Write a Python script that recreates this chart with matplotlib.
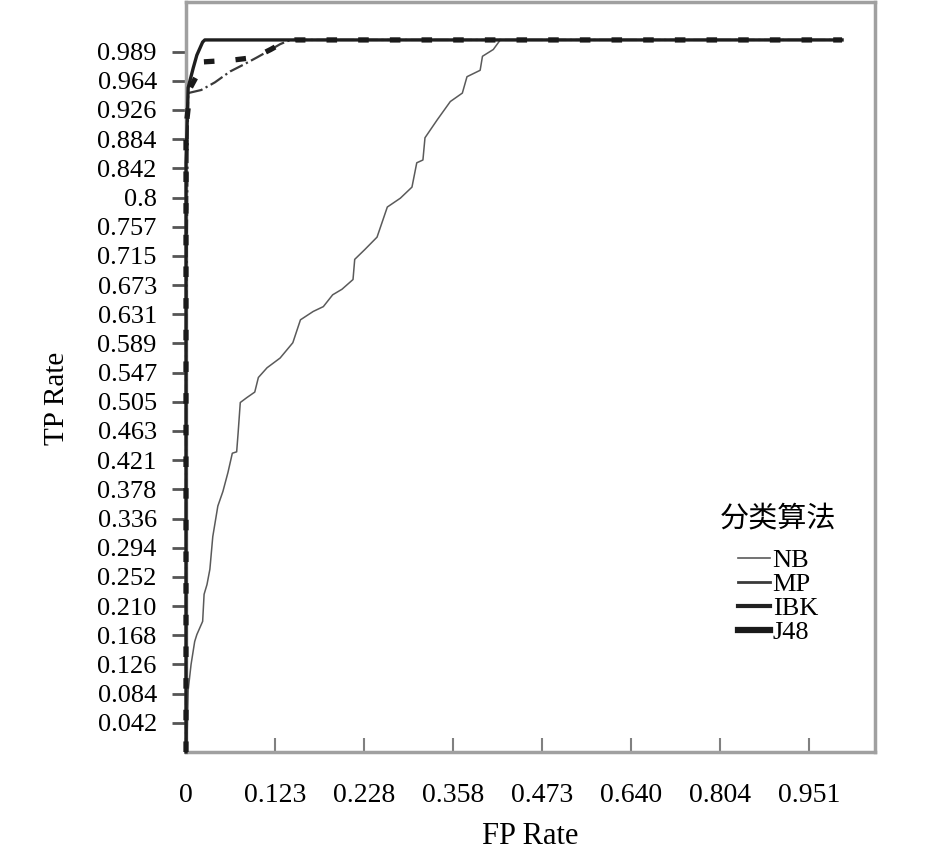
import numpy as np
import matplotlib.pyplot as plt
from matplotlib.lines import Line2D
from matplotlib.font_manager import FontProperties

plt.rcParams['font.family'] = ['Liberation Serif', 'Noto Sans CJK SC']

# tick labels as printed on the chart (evenly spaced, non-linear values)
x_ticks = [0, 0.123, 0.228, 0.358, 0.473, 0.640, 0.804, 0.951]
x_tick_labels = ['0', '0.123', '0.228', '0.358', '0.473', '0.640', '0.804', '0.951']
y_ticks = [0.042, 0.084, 0.126, 0.168, 0.210, 0.252, 0.294, 0.336, 0.378, 0.421,
           0.463, 0.505, 0.547, 0.589, 0.631, 0.673, 0.715, 0.757, 0.8, 0.842,
           0.884, 0.926, 0.964, 0.989]
y_tick_labels = ['0.042', '0.084', '0.126', '0.168', '0.210', '0.252', '0.294',
                 '0.336', '0.378', '0.421', '0.463', '0.505', '0.547', '0.589',
                 '0.631', '0.673', '0.715', '0.757', '0.8', '0.842', '0.884',
                 '0.926', '0.964', '0.989']

# ROC curves (FP rate, TP rate)
nb_fp = [0, 0.001, 0.003, 0.007, 0.012, 0.015, 0.023, 0.025, 0.029, 0.033,
         0.037, 0.044, 0.051, 0.058, 0.064, 0.070, 0.072, 0.075, 0.084, 0.095,
         0.100, 0.112, 0.129, 0.144, 0.153, 0.168, 0.180, 0.191, 0.202, 0.215,
         0.217, 0.229, 0.247, 0.262, 0.281, 0.298, 0.305, 0.314, 0.317, 0.335,
         0.354, 0.370, 0.376, 0.393, 0.396, 0.410, 0.419, 1.0]
nb_tp = [0, 0.0, 0.089, 0.126, 0.159, 0.169, 0.188, 0.227, 0.241, 0.263,
         0.310, 0.354, 0.375, 0.403, 0.431, 0.433, 0.460, 0.504, 0.511, 0.519,
         0.540, 0.554, 0.568, 0.590, 0.623, 0.635, 0.642, 0.659, 0.667, 0.681,
         0.710, 0.724, 0.742, 0.786, 0.799, 0.815, 0.850, 0.854, 0.886, 0.912,
         0.937, 0.948, 0.9675, 0.973, 0.985, 0.991, 1.0, 1.0]

mp_fp = [0, 0, 0.003, 0.021, 0.040, 0.061, 0.080, 0.098, 0.115, 0.129, 0.141, 1.0]
mp_tp = [0, 0.60, 0.948, 0.952, 0.962, 0.972, 0.978, 0.984, 0.990, 0.996, 1.0, 1.0]

ibk_fp = [0, 0, 0.003, 0.010, 0.015, 0.023, 0.026, 1.0]
ibk_tp = [0, 0.85, 0.955, 0.975, 0.986, 0.998, 1.0, 1.0]

j48_fp = [0, 0, 0.006, 0.019, 0.019, 0.045, 0.068, 0.095, 0.117, 0.129, 0.147, 1.0]
j48_tp = [0, 0.90, 0.955, 0.973, 0.980, 0.981, 0.982, 0.984, 0.991, 0.996, 1.0, 1.0]

# piecewise scales so the printed ticks come out evenly spaced
x_anchor = np.array(x_ticks + [1.0, 1.049])
x_pos = np.array(list(range(len(x_ticks))) + [7.37, 7.74])
y_anchor = np.array([0] + y_ticks + [1.0, 1.036])
y_pos = np.array(list(range(len(y_ticks) + 1)) + [24.4, 25.7])


def fx(v):
    return np.interp(v, x_anchor, x_pos)


def fx_inv(p):
    return np.interp(p, x_pos, x_anchor)


def fy(v):
    return np.interp(v, y_anchor, y_pos)


def fy_inv(p):
    return np.interp(p, y_pos, y_anchor)


fig = plt.figure(figsize=(9.45, 8.51), dpi=100)
ax = fig.add_axes([186 / 945, 1 - 752 / 851, 689 / 945, 750 / 851])
ax.set_xscale('function', functions=(fx, fx_inv))
ax.set_yscale('function', functions=(fy, fy_inv))

ax.plot(nb_fp, nb_tp, color='#5a5a5a', lw=1.1, clip_on=False, zorder=3)
ax.plot(mp_fp, mp_tp, color='#3a3a3a', lw=1.6, ls='-.', clip_on=False, zorder=3)
ax.plot(ibk_fp, ibk_tp, color='#1e1e1e', lw=2.4, clip_on=False, zorder=3)
ax.plot(j48_fp, j48_tp, color='#1a1a1a', lw=3.8, ls=(0, (2, 4)), clip_on=False,
        zorder=3)

ax.set_xlim(0, 1.049)
ax.set_ylim(0, 1.036)
ax.set_xticks(x_ticks)
ax.set_xticklabels(x_tick_labels)
ax.set_yticks(y_ticks)
ax.set_yticklabels(y_tick_labels)
ax.minorticks_off()

ax.tick_params(axis='x', direction='in', length=10, width=1.5, color='#808080',
               pad=22, labelsize=20)
ax.tick_params(axis='y', direction='out', length=10, width=2, color='#555555',
               pad=11, labelsize=19)
for s in ax.spines.values():
    s.set_color('#a0a0a0')
    s.set_linewidth(2.5)

ax.set_xlabel('FP Rate', fontsize=22)
ax.xaxis.set_label_coords(0.5, -0.093)
ax.set_ylabel('TP Rate', fontsize=21)
ax.yaxis.set_label_coords(-0.169, 0.472)

handles = [Line2D([], [], color='#5a5a5a', lw=1.2),
           Line2D([], [], color='#3a3a3a', lw=2.0),
           Line2D([], [], color='#222222', lw=3.0),
           Line2D([], [], color='#1a1a1a', lw=4.5)]
leg = ax.legend(handles, ['NB', 'MP', 'IBK', 'J48'], title='分类算法',
                title_fontproperties=FontProperties(family=['Noto Sans CJK SC'], size=21),
                loc='upper left', bbox_to_anchor=(720 / 945, 1 - 503 / 851),
                bbox_transform=fig.transFigure, frameon=False, fontsize=19,
                handlelength=1.2, handletextpad=0.1, labelspacing=0.02,
                borderpad=0, borderaxespad=0, alignment='center')
leg._legend_box.sep = 11

fig.savefig('out.png', dpi=100)
